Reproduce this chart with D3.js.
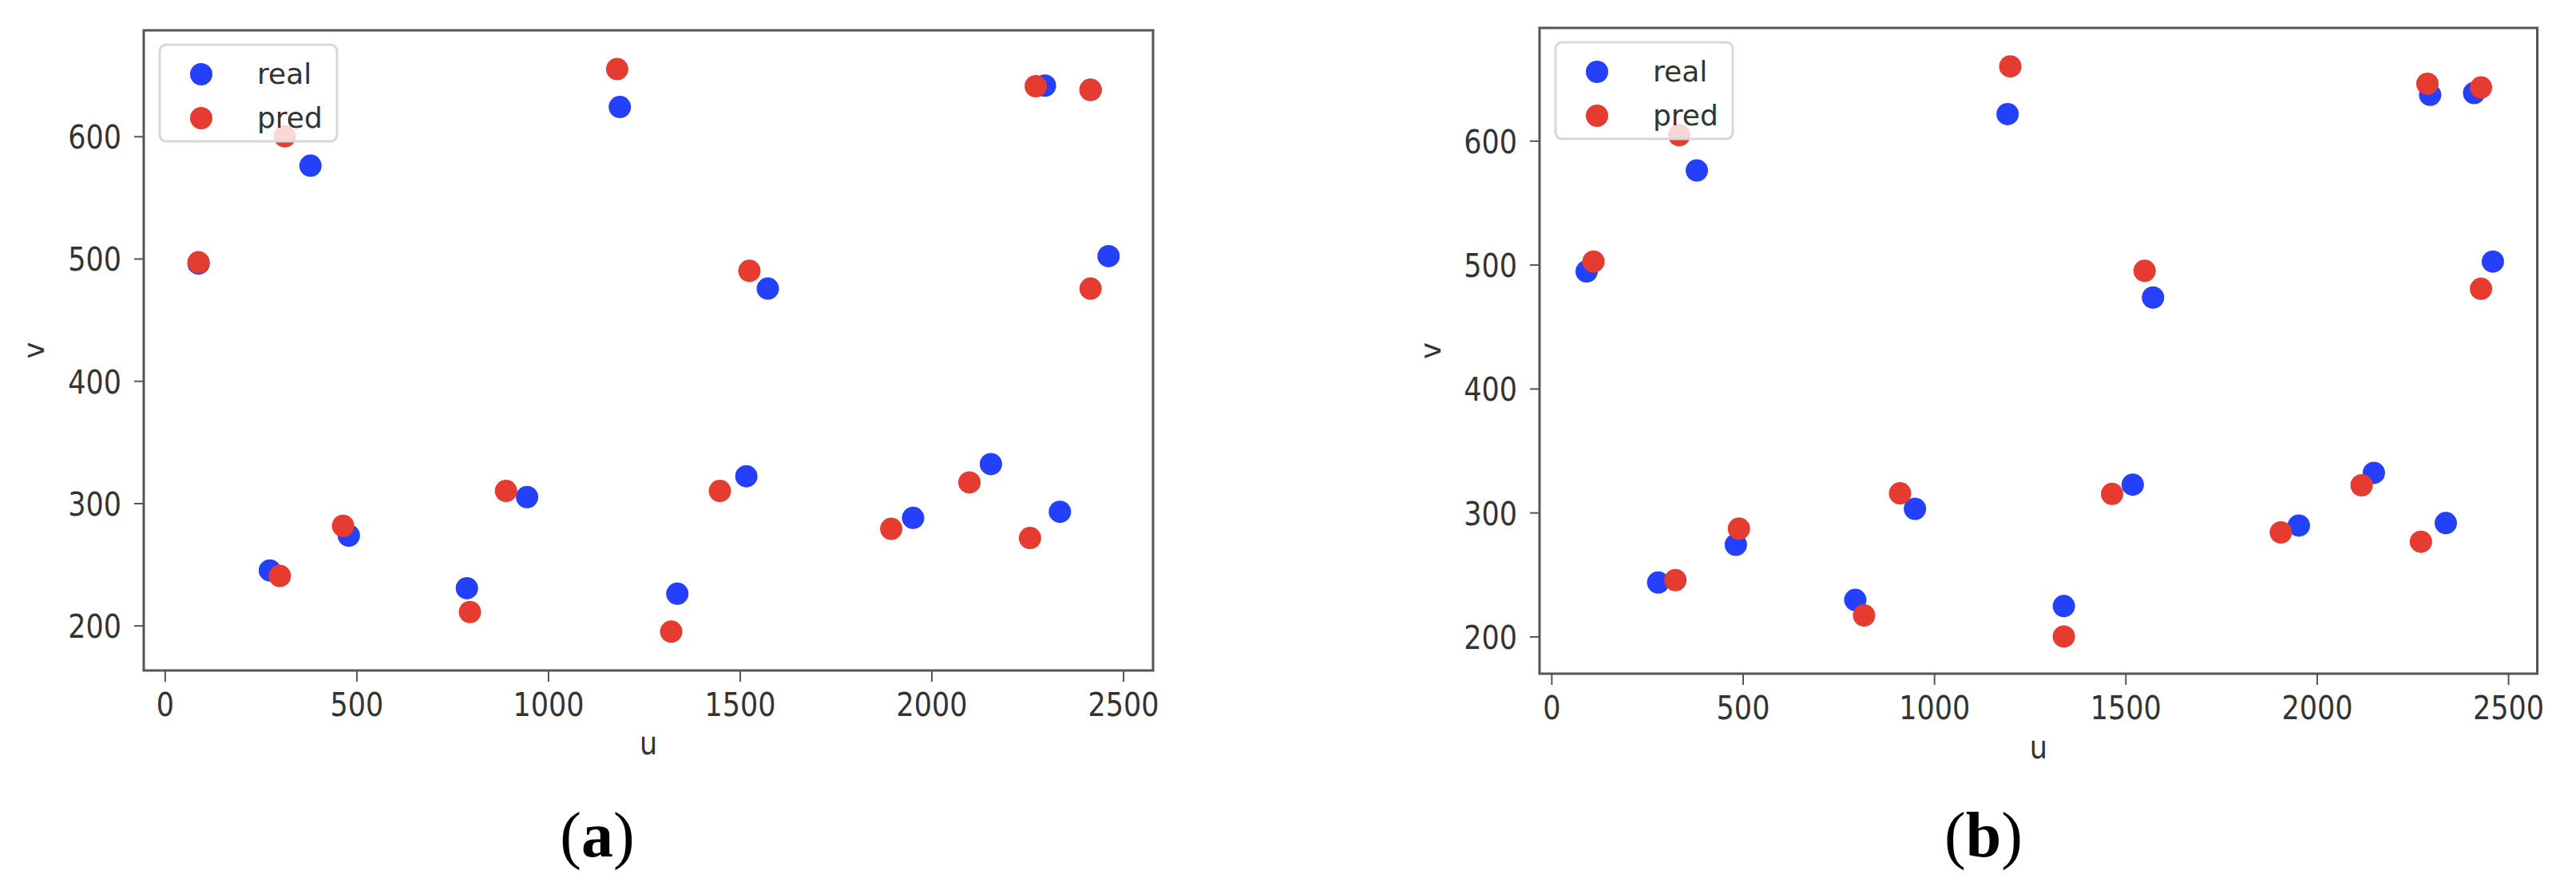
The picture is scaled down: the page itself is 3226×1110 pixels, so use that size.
<!DOCTYPE html>
<html>
<head>
<meta charset="utf-8">
<script src="https://cdn.jsdelivr.net/npm/d3@7"></script>
<style>
  html, body { margin: 0; padding: 0; background: #fff; }
  svg { display: block; }
</style>
</head>
<body>
<svg id="chart" width="3226" height="1110"></svg>
<script>
// ---------- data ----------
const seriesNames = ["real", "pred"];
const xTicks = [0, 500, 1000, 1500, 2000, 2500];
const yTicks = [200, 300, 400, 500, 600];
const panelLabels = ["a", "b"];

// panel (a)
const aRealU = [88, 380, 274, 480, 788, 945, 1187, 1337, 1517, 1573, 1952, 2155, 2335, 2296, 2415, 2462];
const aRealV = [496, 576, 245, 273.5, 230.5, 305, 624, 226, 322, 475.5, 288, 332, 293, 641.5, 638, 502];
const aPredU = [88, 313, 300, 465, 796, 890, 1180, 1321, 1448, 1525, 1895, 2099, 2257, 2272, 2415, 2415];
const aPredV = [497, 600, 240.5, 281.5, 211, 310, 655, 195, 310, 490, 279, 317, 271.5, 641, 638, 475.5];

// panel (b)
const bRealU = [92, 380, 279, 482, 794, 950, 1192, 1339, 1519, 1572, 1953, 2149, 2337, 2296, 2411, 2460];
const bRealV = [494.5, 576, 243.5, 274, 229.5, 303, 621.5, 224.5, 322.5, 473.5, 289.5, 332, 291.5, 637, 638.5, 502.5];
const bPredU = [110, 334, 324, 490, 817, 911, 1199, 1339, 1465, 1550, 1906, 2117, 2272, 2289, 2429, 2429];
const bPredV = [502.5, 604.5, 245.5, 287, 217, 315.5, 660, 200, 315, 495, 284, 322, 276.5, 646, 643, 480.5];

// ---------- layout / style ----------
const colors = { real: "#2440fb", pred: "#e63b30" };
const panels = [
  { label: panelLabels[0], realU: aRealU, realV: aRealV, predU: aPredU, predV: aPredV,
    left: 180, top: 38, width: 1264, height: 802, xDomain: [-55, 2578], yDomain: [163.2, 686.7],
    labelX: 748, uY: 945, vX: 43 },
  { label: panelLabels[1], realU: bRealU, realV: bRealV, predU: bPredU, predV: bPredV,
    left: 1928, top: 35, width: 1249.5, height: 809, xDomain: [-31, 2576], yDomain: [170, 691],
    labelX: 2484, uY: 950, vX: 1792 }
];

const svg = d3.select("#chart");
const tickFont = "'DejaVu Sans', sans-serif";
const textColor = "#333";
const lineColor = "#555";
const R = 14;
const SY = 1.18; // vertical stretch of the source image's tick text

panels.forEach(p => {
  const x = d3.scaleLinear().domain(p.xDomain).range([p.left, p.left + p.width]);
  const y = d3.scaleLinear().domain(p.yDomain).range([p.top + p.height, p.top]);
  const g = svg.append("g");

  // axes
  const xAxis = g.append("g")
    .attr("transform", `translate(0,${p.top + p.height})`)
    .call(d3.axisBottom(x).tickValues(xTicks).tickSize(14).tickPadding(18).tickFormat(d3.format("d")));
  const yAxis = g.append("g")
    .attr("transform", `translate(${p.left},0)`)
    .call(d3.axisLeft(y).tickValues(yTicks).tickSize(12).tickPadding(16).tickFormat(d3.format("d")));

  [xAxis, yAxis].forEach(ax => {
    ax.select(".domain").remove();
    ax.selectAll(".tick line").attr("stroke", lineColor).attr("stroke-width", 2);
    ax.selectAll(".tick text")
      .attr("fill", textColor)
      .style("font-family", tickFont)
      .style("font-size", "35px");
  });
  xAxis.selectAll(".tick text").attr("y", 23.4).attr("transform", `scale(1,${SY})`);
  yAxis.selectAll(".tick text").attr("y", 0).attr("dy", "0.36em").attr("transform", `scale(1,${SY})`);

  // points (real first, pred on top)
  const realPts = p.realU.map((u, i) => ({ u, v: p.realV[i] }));
  const predPts = p.predU.map((u, i) => ({ u, v: p.predV[i] }));
  g.append("g").selectAll("circle").data(realPts).join("circle")
    .attr("cx", d => x(d.u)).attr("cy", d => y(d.v)).attr("r", R)
    .attr("fill", colors.real);
  g.append("g").selectAll("circle").data(predPts).join("circle")
    .attr("cx", d => x(d.u)).attr("cy", d => y(d.v)).attr("r", R)
    .attr("fill", colors.pred);

  // frame
  g.append("rect")
    .attr("x", p.left).attr("y", p.top)
    .attr("width", p.width).attr("height", p.height)
    .attr("fill", "none").attr("stroke", lineColor).attr("stroke-width", 3);

  // legend
  const lg = g.append("g").attr("transform", `translate(${p.left + 20},${p.top + 18})`);
  lg.append("rect")
    .attr("x", 0).attr("y", 0).attr("width", 222).attr("height", 121)
    .attr("rx", 8).attr("ry", 8)
    .attr("fill", "#fff").attr("fill-opacity", 0.8)
    .attr("stroke", "#d8d8d8").attr("stroke-width", 3);
  seriesNames.forEach((name, i) => {
    const cy = 37 + i * 55;
    lg.append("circle").attr("cx", 52).attr("cy", cy).attr("r", R).attr("fill", colors[name]);
    lg.append("text")
      .attr("x", 122).attr("y", cy)
      .attr("dy", "0.32em")
      .attr("fill", textColor)
      .style("font-family", tickFont)
      .style("font-size", "36px")
      .text(name);
  });

  // axis titles
  g.append("text")
    .attr("transform", `translate(${p.left + p.width / 2},${p.uY}) scale(1,${SY})`)
    .attr("text-anchor", "middle")
    .attr("fill", textColor)
    .style("font-family", tickFont).style("font-size", "35px")
    .text("u");
  g.append("text")
    .attr("transform", `translate(${p.vX},${p.top + p.height / 2}) rotate(-90)`)
    .attr("text-anchor", "middle").attr("dy", "0.35em")
    .attr("fill", textColor)
    .style("font-family", tickFont).style("font-size", "35px")
    .text("v");

  // panel label "(a)" / "(b)"
  const t = g.append("text")
    .attr("x", p.labelX).attr("y", 1073)
    .attr("text-anchor", "middle")
    .attr("fill", "#000")
    .style("font-family", "'Liberation Serif', 'Times New Roman', serif")
    .style("font-size", "80px");
  t.append("tspan").text("(");
  t.append("tspan").style("font-weight", "bold").text(p.label);
  t.append("tspan").text(")");
});
</script>
</body>
</html>
